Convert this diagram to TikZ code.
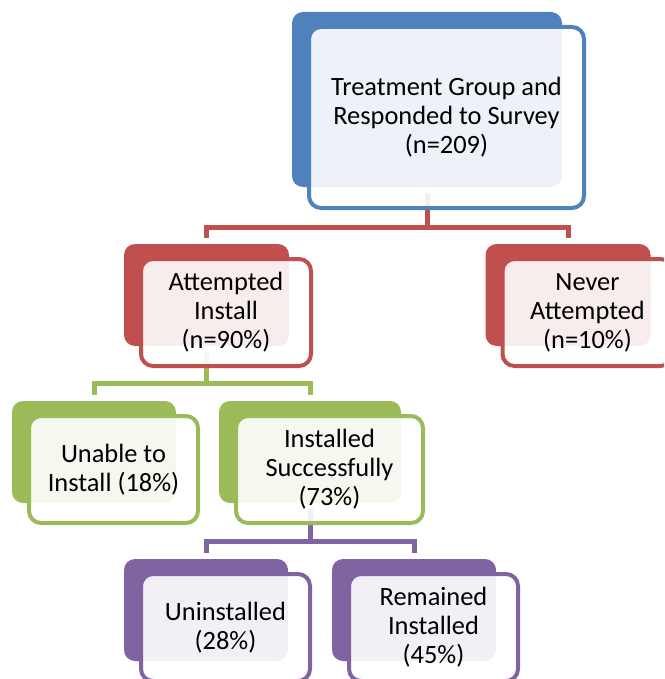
\documentclass[tikz,border=0pt]{standalone}
\usepackage{fontspec}
\setmainfont{Carlito}
\usetikzlibrary{calc}
\definecolor{cblue}{HTML}{4F81BD}
\definecolor{cred}{HTML}{C0504D}
\definecolor{cgreen}{HTML}{9BBB59}
\definecolor{cpurple}{HTML}{8064A2}
\tikzset{
  backbox/.style={rectangle, rounded corners=11pt, fill=#1, draw=none, inner sep=0pt},
  frontbox/.style={rectangle, rounded corners=12pt, draw=#1, line width=4pt, fill=white, fill opacity=0.9, text opacity=1, draw opacity=1, inner sep=0pt, align=center, font=\fontsize{26.4}{29}\selectfont, text=black},
  conn/.style={draw=#1, line width=5pt}
}
\begin{document}
\begin{tikzpicture}[x=1pt,y=1pt]
\useasboundingbox (0,0) rectangle (664,-679);
\clip (0,0) rectangle (664,-679);
% back boxes
\node[backbox=cblue, minimum width=270pt, minimum height=175pt] (topB) at (427,-99.5) {};
\node[backbox=cred, minimum width=165pt, minimum height=102pt] (attB) at (206.5,-295) {};
\node[backbox=cred, minimum width=165pt, minimum height=102pt] (nevB) at (568,-295) {};
\node[backbox=cgreen, minimum width=164pt, minimum height=102pt] (unaB) at (94,-452) {};
\node[backbox=cgreen, minimum width=182pt, minimum height=102pt] (insB) at (310,-452) {};
\node[backbox=cpurple, minimum width=164pt, minimum height=102pt] (uniB) at (206,-610) {};
\node[backbox=cpurple, minimum width=164pt, minimum height=102pt] (remB) at (414,-610) {};
% connector levels
\coordinate (h1) at (0,-227);
\coordinate (h2) at (0,-383);
\coordinate (h3) at (0,-541);
% connectors (behind front boxes)
\draw[conn=cred] ([yshift=-6pt]topB.south) -- (topB.south |- h1);
\draw[conn=cred] ([yshift=6pt]attB.north) |- (h1 -| nevB.north) -- ([yshift=6pt]nevB.north);
\draw[conn=cgreen] ([yshift=-6pt]attB.south) -- (attB.south |- h2);
\draw[conn=cgreen] ([yshift=6pt]unaB.north) |- (h2 -| insB.north) -- ([yshift=6pt]insB.north);
\draw[conn=cpurple] ([yshift=-6pt]insB.south) -- (insB.south |- h3);
\draw[conn=cpurple] ([yshift=6pt]uniB.north) |- (h3 -| remB.north) -- ([yshift=6pt]remB.north);
% front boxes
\node[frontbox=cblue, minimum width=275pt, minimum height=181pt] (top) at (446.5,-117.5) {Treatment Group and\\Responded to Survey\\(n=209)};
\node[frontbox=cred, minimum width=170pt, minimum height=107pt] (att) at (226,-312.5) {Attempted\\Install\\(n=90\%)};
\node[frontbox=cred, minimum width=170pt, minimum height=107pt] (nev) at (587.5,-312.5) {Never\\Attempted\\(n=10\%)};
\node[frontbox=cgreen, minimum width=169pt, minimum height=107pt] (una) at (113.5,-469.5) {Unable to\\Install (18\%)};
\node[frontbox=cgreen, minimum width=187pt, minimum height=107pt] (ins) at (329.5,-469.5) {Installed\\Successfully\\(73\%)};
\node[frontbox=cpurple, minimum width=169pt, minimum height=107pt] (uni) at (225.5,-627.5) {Uninstalled\\(28\%)};
\node[frontbox=cpurple, minimum width=169pt, minimum height=107pt] (rem) at (433.5,-627.5) {Remained\\Installed\\(45\%)};
\end{tikzpicture}
\end{document}
